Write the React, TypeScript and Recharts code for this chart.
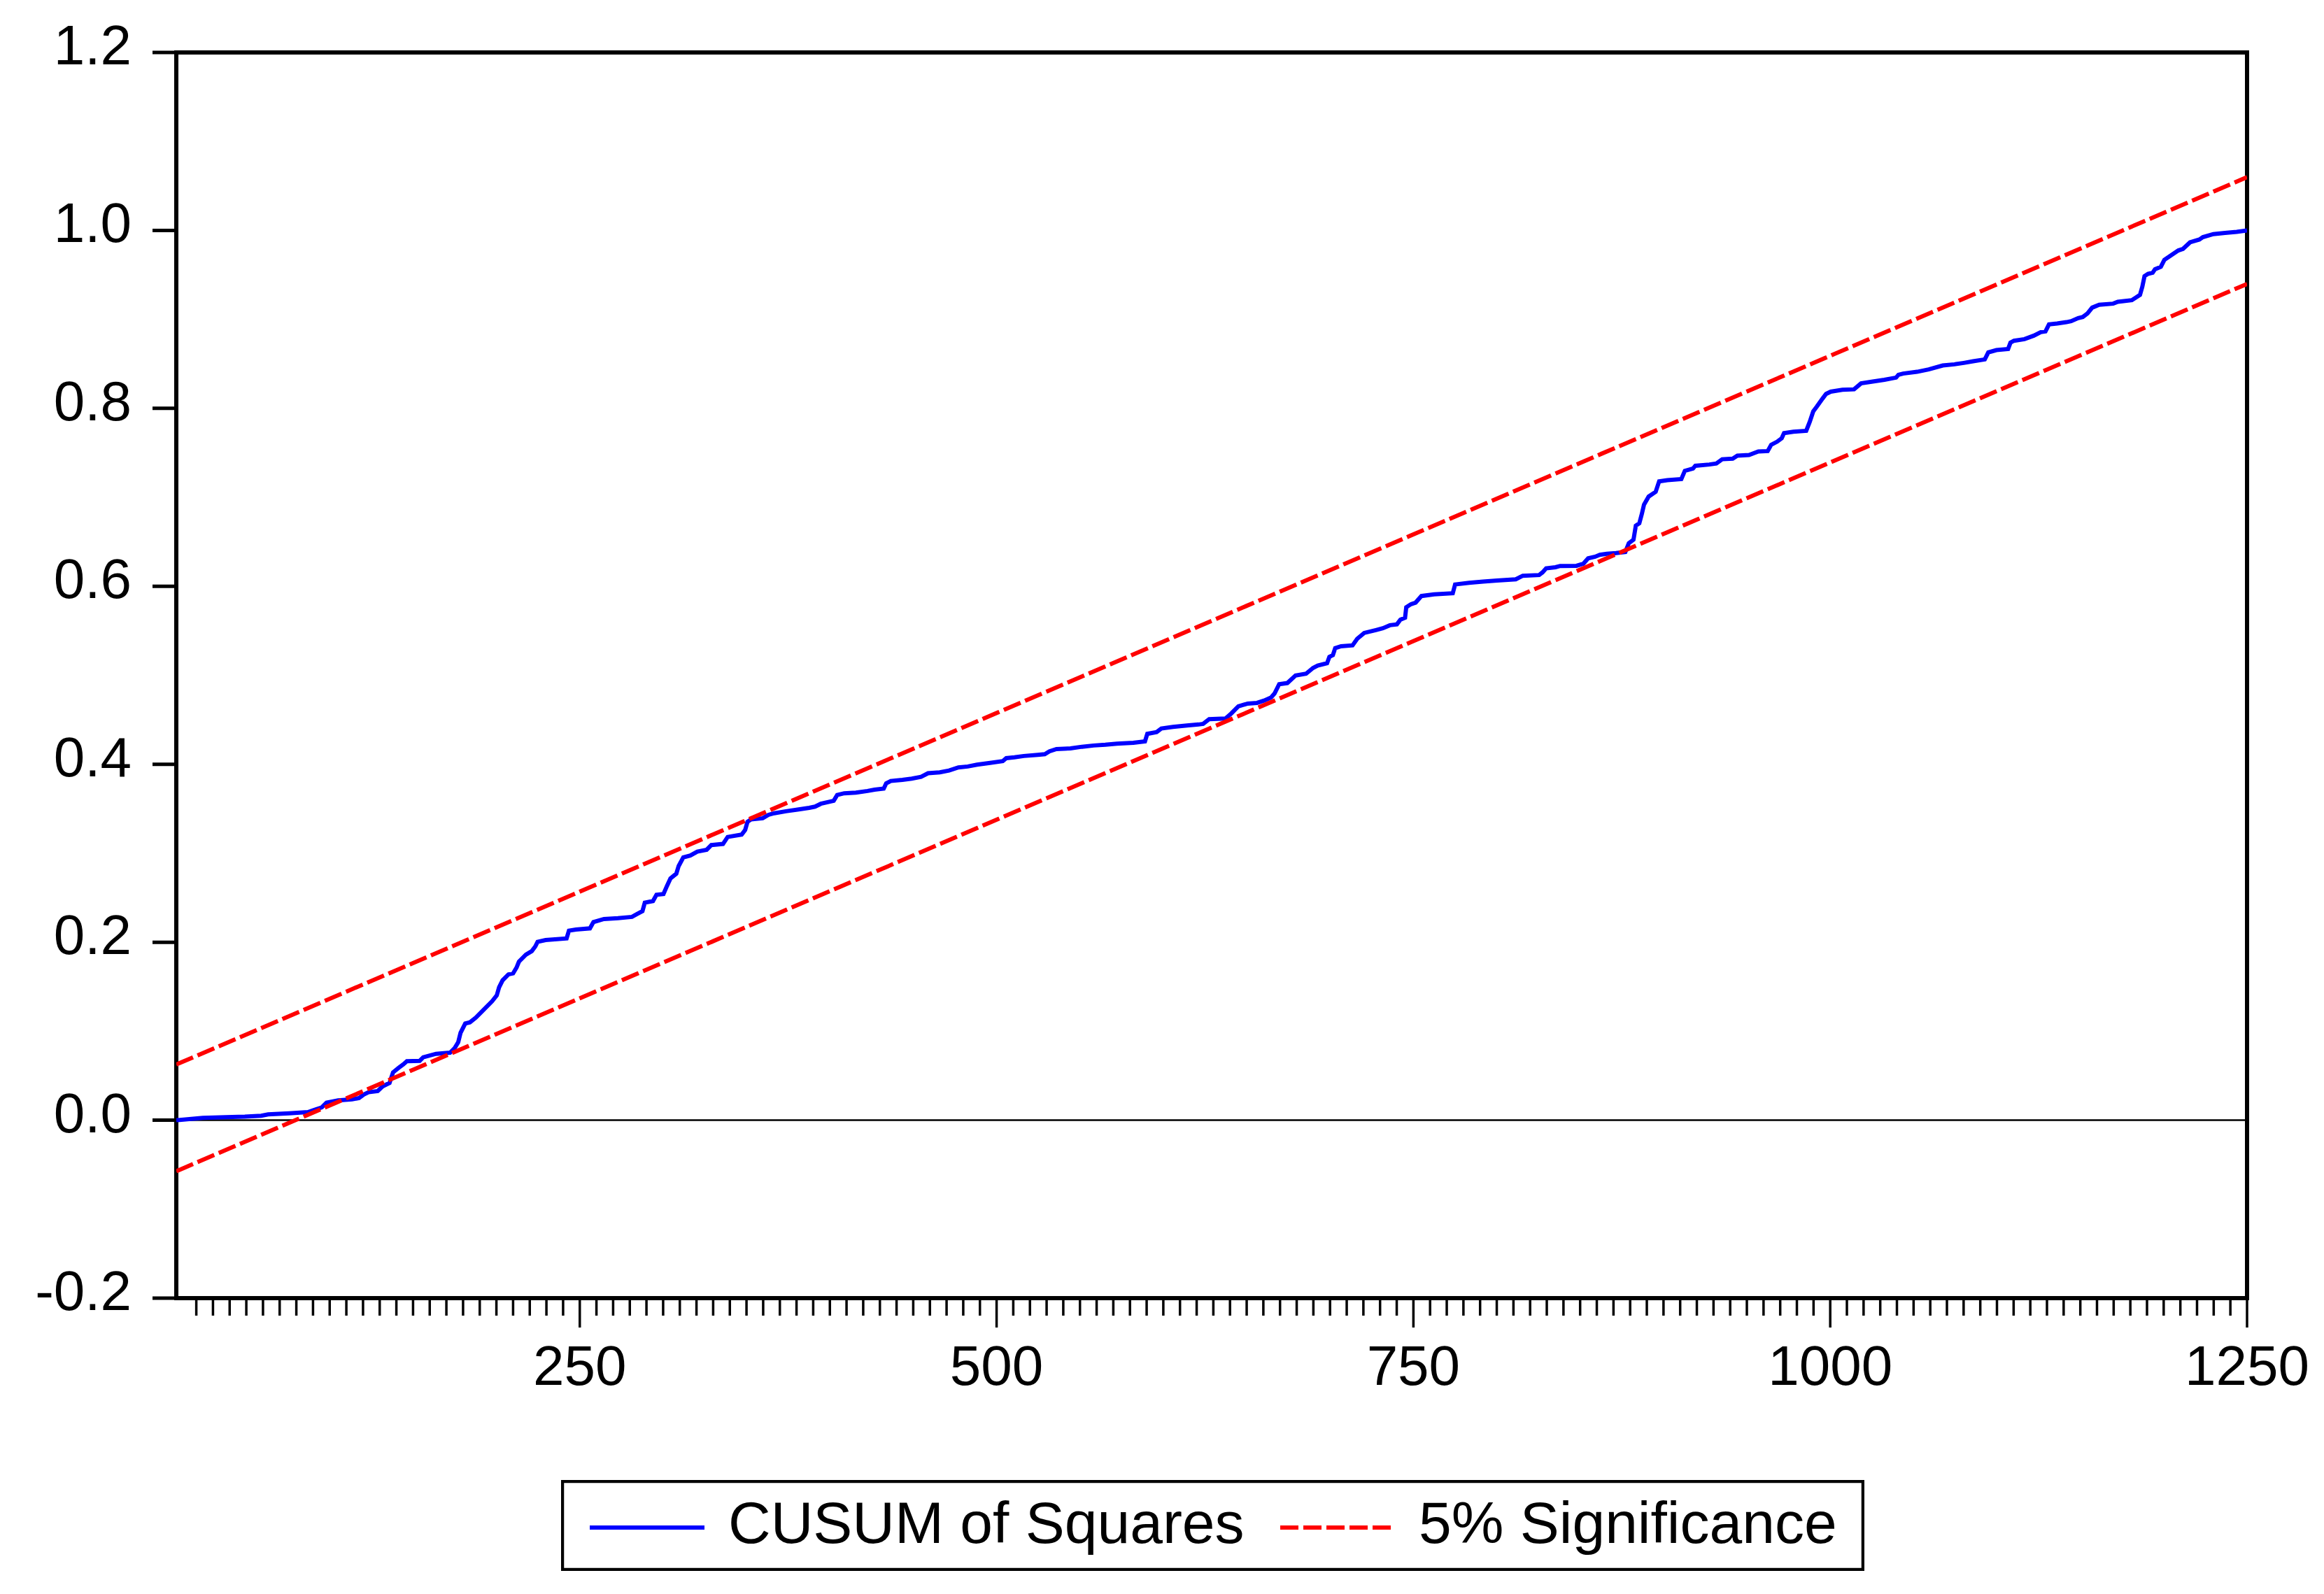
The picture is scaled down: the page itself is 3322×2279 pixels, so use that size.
import React from "react";
import { LineChart, Line, XAxis, YAxis, ReferenceLine, ReferenceArea, Legend } from "recharts";

const FONT = '"Liberation Sans", Arial, sans-serif';

const CUSUM_OBS = [
  8, 23.9, 37.9, 49.1, 58.9, 63.1, 75.7, 86.9, 91.1, 95.3, 98.1, 105.1, 113.4, 117.6, 120.5, 123.3,
  128.8, 131.7, 135.9, 138.0, 141.4, 144.2, 146.3, 154.0, 156.1, 163.8, 172.2, 175.0, 177.1, 178.5,
  181.3, 184.1, 187.6, 190.4, 193.2, 197.4, 200.2, 201.6, 203.7, 207.2, 210.0, 212.1, 213.5, 217.7,
  221.2, 223.3, 224.7, 229.5, 242.1, 243.5, 247.7, 256.1, 258.2, 264.5, 272.9, 281.3, 284.1, 287.6,
  289.0, 293.9, 296.0, 300.2, 302.3, 304.4, 307.9, 309.3, 312.1, 316.3, 320.5, 326.1, 328.9, 335.9,
  338.7, 347.1, 349.2, 350.6, 352.7, 359.7, 363.2, 366.7, 373.7, 380.6, 387.6, 391.1, 394.6, 402.3,
  404.4, 408.6, 415.6, 422.6, 426.8, 432.3, 433.8, 436.5, 443.5, 449.1, 454.7, 458.9, 465.9, 471.5,
  477.1, 482.7, 488.3, 495.3, 503.7, 505.8, 510.7, 516.3, 524.7, 528.9, 531.7, 535.9, 544.3, 551.2,
  558.2, 565.2, 572.2, 582.0, 589.0, 590.4, 596.0, 598.8, 605.8, 614.2, 621.1, 623.9, 627.5, 637.3,
  640.8, 645.0, 650.6, 656.2, 660.4, 664.6, 666.7, 669.5, 674.4, 679.3, 685.6, 689.8, 692.6, 698.2,
  699.6, 701.7, 703.1, 706.6, 713.5, 716.3, 720.5, 727.5, 731.7, 735.9, 740.1, 742.2, 745.0, 745.7,
  748.5, 751.3, 754.8, 762.4, 773.6, 775.0, 783.4, 791.8, 800.2, 811.4, 815.6, 825.4, 827.5, 829.6,
  835.2, 838.0, 847.8, 852.0, 854.8, 859.0, 861.8, 866.0, 871.5, 877.1, 879.2, 882.0, 883.4, 885.5,
  887.0, 888.3, 891.1, 895.3, 897.4, 902.3, 910.7, 912.8, 917.7, 919.1, 927.5, 931.7, 935.2, 941.5,
  944.3, 951.3, 956.9, 962.5, 964.6, 968.1, 970.9, 972.3, 977.9, 985.6, 987.7, 989.8, 991.9, 995.4,
  997.5, 1000.3, 1007.3, 1014.3, 1018.5, 1025.5, 1032.5, 1039.5, 1040.9, 1043.7, 1052.1, 1059.1,
  1067.5, 1074.5, 1080.1, 1085.7, 1092.7, 1094.8, 1099.7, 1106.7, 1108.1, 1110.2, 1116.5, 1122.1,
  1126.3, 1129.1, 1131.2, 1136.1, 1141.7, 1144.5, 1148.7, 1151.5, 1154.3, 1157.1, 1161.3, 1169.7,
  1172.5, 1180.9, 1185.8, 1187.2, 1188.5, 1190.6, 1193.4, 1194.8, 1198.3, 1200.4, 1204.6, 1208.8,
  1211.6, 1215.8, 1221.4, 1223.5, 1229.8, 1236.8, 1243.8, 1250,
];

const CUSUM_VALUES = [
  0.0, 0.0026, 0.0034, 0.0039, 0.005, 0.0065, 0.0078, 0.0091, 0.0117, 0.0144, 0.0196, 0.0222, 0.0235,
  0.0248, 0.0288, 0.0314, 0.0327, 0.038, 0.0419, 0.0537, 0.0589, 0.0628, 0.0663, 0.0667, 0.0707,
  0.0746, 0.0759, 0.0812, 0.0877, 0.0982, 0.1087, 0.11, 0.1152, 0.1205, 0.1257, 0.1336, 0.1402,
  0.1493, 0.1572, 0.1638, 0.165, 0.1716, 0.1781, 0.186, 0.19, 0.1952, 0.2004, 0.2025, 0.2043, 0.213,
  0.2143, 0.2156, 0.2227, 0.2261, 0.2271, 0.2285, 0.2314, 0.235, 0.2444, 0.2463, 0.2534, 0.2542,
  0.2633, 0.2717, 0.277, 0.2856, 0.2953, 0.2974, 0.3018, 0.3039, 0.3092, 0.3105, 0.3183, 0.321,
  0.3262, 0.3354, 0.338, 0.3393, 0.3432, 0.345, 0.3472, 0.349, 0.3511, 0.3524, 0.3556, 0.359, 0.3655,
  0.3674, 0.3682, 0.37, 0.3715, 0.3726, 0.3786, 0.3812, 0.3825, 0.3839, 0.3859, 0.3899, 0.391, 0.393,
  0.3965, 0.3975, 0.3996, 0.4014, 0.4035, 0.4069, 0.4079, 0.4093, 0.4106, 0.4114, 0.4145, 0.4171,
  0.4179, 0.4197, 0.4211, 0.4219, 0.4232, 0.4242, 0.4258, 0.4342, 0.4362, 0.4402, 0.442, 0.4436,
  0.4447, 0.4454, 0.4507, 0.4515, 0.4572, 0.4651, 0.4682, 0.469, 0.4716, 0.4751, 0.4795, 0.49,
  0.4913, 0.4997, 0.5018, 0.5083, 0.5109, 0.5136, 0.5207, 0.5227, 0.5306, 0.5327, 0.5337, 0.5411,
  0.5476, 0.5508, 0.5529, 0.5563, 0.5573, 0.5626, 0.5647, 0.5765, 0.5799, 0.5817, 0.5891, 0.5909,
  0.5922, 0.6021, 0.604, 0.6053, 0.6066, 0.6079, 0.6119, 0.6127, 0.6158, 0.6202, 0.6215, 0.6229,
  0.6231, 0.6255, 0.6315, 0.6333, 0.6354, 0.6365, 0.6373, 0.6386, 0.6485, 0.6524, 0.6682, 0.6708,
  0.6813, 0.6917, 0.7009, 0.7062, 0.718, 0.7193, 0.7206, 0.7298, 0.7324, 0.7355, 0.7369, 0.7381,
  0.7428, 0.7434, 0.7468, 0.7476, 0.7515, 0.752, 0.7591, 0.7625, 0.7664, 0.7722, 0.7738, 0.7748,
  0.7848, 0.7966, 0.8018, 0.811, 0.8162, 0.8188, 0.8209, 0.8214, 0.8281, 0.8302, 0.8321, 0.8346,
  0.8377, 0.8391, 0.8411, 0.8438, 0.8482, 0.8495, 0.8511, 0.8529, 0.855, 0.8629, 0.8655, 0.8668,
  0.8739, 0.876, 0.8778, 0.8817, 0.8857, 0.8865, 0.8943, 0.8954, 0.8969, 0.898, 0.9014, 0.9027,
  0.9067, 0.9132, 0.9164, 0.9177, 0.9198, 0.9216, 0.9276, 0.9368, 0.9486, 0.9512, 0.9525, 0.9564,
  0.9591, 0.9669, 0.9722, 0.9775, 0.9793, 0.9866, 0.9898, 0.9924, 0.9959, 0.9972, 0.9984, 1.0,
];

// 5% significance band (straight lines, end points)
const BAND_OBS = [8, 1250];
const UPPER_BAND = [0.0626, 1.0599];
const LOWER_BAND = [-0.0574, 0.9399];

const Y_TICKS = [-0.2, 0, 0.2, 0.4, 0.6, 0.8, 1.0, 1.2];
const X_MAJOR_TICKS = [250, 500, 750, 1000, 1250];
const X_MINOR_STEP = 10;

const SERIES_NAMES = ["CUSUM of Squares", "5% Significance"];
const DASH = "26 7";

const cusumData = CUSUM_OBS.map((x, i) => ({ x, y: CUSUM_VALUES[i] }));
const upperData = BAND_OBS.map((x, i) => ({ x, y: UPPER_BAND[i] }));
const lowerData = BAND_OBS.map((x, i) => ({ x, y: LOWER_BAND[i] }));

const xTicks: number[] = [];
for (let v = 20; v <= 1250; v += X_MINOR_STEP) xTicks.push(v);

function XTick(props: any) {
  const { x, y, payload } = props;
  const major = X_MAJOR_TICKS.includes(payload.value);
  return (
    <g>
      <line x1={x} x2={x} y1={y} y2={y + (major ? 42 : 25)} stroke="#000" strokeWidth={3.5} />
      {major && (
        <text x={x} y={y + 124} textAnchor="middle" fontSize={80} fontFamily={FONT} fill="#000">
          {payload.value}
        </text>
      )}
    </g>
  );
}

function YTick(props: any) {
  const { x, y, payload } = props;
  return (
    <text x={x} y={y + 17} textAnchor="end" fontSize={80} fontFamily={FONT} fill="#000">
      {Number(payload.value).toFixed(1)}
    </text>
  );
}

const LEGEND_ITEM_X = [41, 1028];

function LegendBox(props: any) {
  const payload = props.payload || [];
  return (
    <svg width={1863} height={130} style={{ display: "block" }}>
      <rect x={2} y={2} width={1859} height={126} fill="#fff" stroke="#000" strokeWidth={4.5} />
      {SERIES_NAMES.map((name, i) => {
        const item = payload.find((p: any) => p.value === name);
        const x0 = LEGEND_ITEM_X[i];
        return (
          <g key={name}>
            <line
              x1={x0}
              x2={x0 + 164}
              y1={68}
              y2={68}
              stroke={item ? item.color : i === 0 ? "#0000FF" : "#FF0000"}
              strokeWidth={6}
              strokeDasharray={i === 1 ? DASH : undefined}
            />
            <text x={x0 + 198} y={90} fontSize={84} fontFamily={FONT} fill="#000">
              {name}
            </text>
          </g>
        );
      })}
    </svg>
  );
}

export default function App() {
  return (
    <div style={{ position: "absolute", left: 0, top: 0, width: 3322, height: 2279, background: "#fff" }}>
      <LineChart width={3322} height={2279} margin={{ top: 75, right: 110, bottom: 323, left: 0 }}>
        <XAxis
          type="number"
          dataKey="x"
          domain={[8, 1250]}
          allowDataOverflow
          ticks={xTicks}
          interval={0}
          tickSize={0}
          tickMargin={0}
          tickLine={false}
          axisLine={false}
          height={100}
          tick={<XTick />}
        />
        <YAxis
          type="number"
          domain={[-0.2, 1.2]}
          allowDataOverflow
          ticks={Y_TICKS}
          interval={0}
          width={252}
          tickSize={34}
          tickMargin={30}
          tickLine={{ stroke: "#000", strokeWidth: 5 }}
          axisLine={false}
          tick={<YTick />}
        />
        <ReferenceArea x1={8} x2={1250} y1={-0.2} y2={1.2} fill="none" stroke="#000" strokeWidth={6} />
        <ReferenceLine y={0} stroke="#000" strokeWidth={2.5} />
        <Line
          data={cusumData}
          dataKey="y"
          name={SERIES_NAMES[0]}
          type="linear"
          stroke="#0000FF"
          strokeWidth={6}
          dot={false}
          isAnimationActive={false}
        />
        <Line
          data={upperData}
          dataKey="y"
          name={SERIES_NAMES[1]}
          type="linear"
          stroke="#FF0000"
          strokeWidth={6}
          strokeDasharray={DASH}
          dot={false}
          isAnimationActive={false}
        />
        <Line
          data={lowerData}
          dataKey="y"
          name="5% Significance (lower)"
          legendType="none"
          type="linear"
          stroke="#FF0000"
          strokeWidth={6}
          strokeDasharray={DASH}
          dot={false}
          isAnimationActive={false}
        />
        <Legend
          layout="vertical"
          align="center"
          verticalAlign="middle"
          wrapperStyle={{ position: "absolute", left: 802, top: 2116, width: 1863, height: 130 }}
          content={<LegendBox />}
        />
      </LineChart>
    </div>
  );
}
